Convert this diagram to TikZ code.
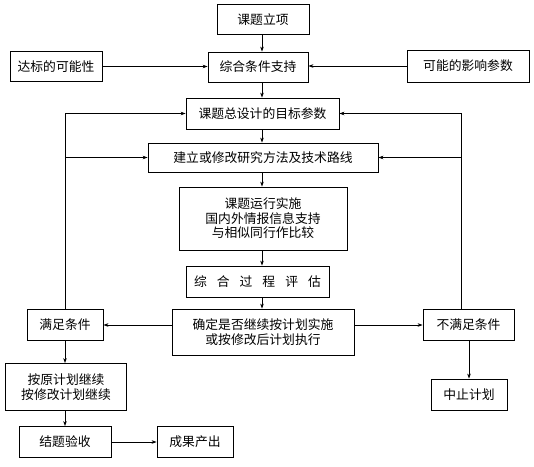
\documentclass[tikz,border=0pt]{standalone}
\usepackage{fontspec}
\setmainfont{Noto Sans CJK SC}
\usetikzlibrary{arrows.meta,calc}
\begin{document}
\begin{tikzpicture}[x=1pt,y=-1pt,
 box/.style={draw, line width=0.9pt, inner sep=0pt, align=center, font=\fontsize{12.8}{14.5}\selectfont},
 arr/.style={-{Stealth[length=5pt,width=3.6pt]}, line width=0.6pt},
 ln/.style={line width=0.6pt}]
\useasboundingbox (0,0) rectangle (534,466);
\node[box, minimum width=92pt, minimum height=30pt] (lx) at (263,19.5) {课题立项};
\node[box, minimum width=92pt, minimum height=30pt] (db) at (56,66.5) {达标的可能性};
\node[box, minimum width=100pt, minimum height=30pt] (zh) at (258,67) {综合条件支持};
\node[box, minimum width=122pt, minimum height=32pt] (kn) at (468,66) {可能的影响参数};
\node[box, minimum width=153pt, minimum height=31pt] (mb) at (262.5,113.5) {课题总设计的目标参数};
\node[box, minimum width=230pt, minimum height=29pt] (jl) at (263,157.5) {建立或修改研究方法及技术路线};
\node[box, minimum width=168pt, minimum height=63pt] (yx) at (263,218.5) {课题运行实施\\国内外情报信息支持\\与相似同行作比较};
\node[box, minimum width=143pt, minimum height=31pt] (pg) at (257.5,281.5) {综\hspace{10pt}合\hspace{10pt}过\hspace{10pt}程\hspace{10pt}评\hspace{10pt}估};
\node[box, minimum width=182pt, minimum height=46pt] (qd) at (263,332) {确定是否继续按计划实施\\或按修改后计划执行};
\node[box, minimum width=76pt, minimum height=31pt] (mz) at (65,325) {满足条件};
\node[box, minimum width=91pt, minimum height=31pt] (bm) at (468.5,325) {不满足条件};
\node[box, minimum width=121pt, minimum height=47pt] (ay) at (66,387) {按原计划继续\\按修改计划继续};
\node[box, minimum width=76pt, minimum height=31pt] (zz) at (469,394.5) {中止计划};
\node[box, minimum width=92pt, minimum height=31pt] (jt) at (65,442) {结题验收};
\node[box, minimum width=76pt, minimum height=31pt] (cg) at (195,442) {成果产出};
\coordinate (mx) at (262,0);
\coordinate (rx) at (461.5,0);
% main column
\draw[arr] (lx.south -| mx) -- (zh.north -| mx);
\draw[arr] (zh.south -| mx) -- (mb.north -| mx);
\draw[arr] (mb.south -| mx) -- (jl.north -| mx);
\draw[arr] (jl.south -| mx) -- (yx.north -| mx);
\draw[arr] (yx.south -| mx) -- (pg.north -| mx);
\draw[arr] (pg.south -| mx) -- (qd.north -| mx);
% side inputs
\draw[arr] (db.east) -- (db.east -| zh.west);
\draw[arr] (kn.west) -- (kn.west -| zh.east);
% decision branches
\draw[arr] (mz.east -| qd.west) -- (mz.east);
\draw[arr] (bm.west -| qd.east) -- (bm.west);
% left loop
\draw[arr] (mz.north) -- (mz.north |- mb.west) -- (mb.west);
\draw[arr] (mz.north |- jl.west) -- (jl.west);
% right loop
\draw[arr] (bm.north -| rx) -- (rx |- mb.east) -- (mb.east);
\draw[arr] (rx |- jl.east) -- (jl.east);
% lower left
\draw[arr] (mz.south) -- (ay.north -| mz.south);
\draw[arr] (ay.south -| mz.south) -- (jt.north -| mz.south);
\draw[arr] (jt.east) -- (jt.east -| cg.west);
% lower right
\draw[arr] (zz.north |- bm.south) -- (zz.north);
\end{tikzpicture}
\end{document}
